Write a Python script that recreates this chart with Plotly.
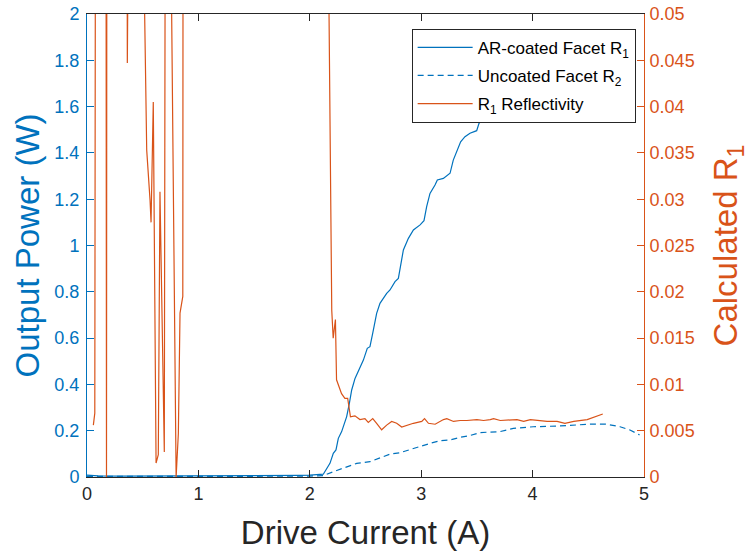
import plotly.graph_objects as go

# ---- data ----
ar_current = [0.0, 0.1, 0.3, 0.5, 0.7, 0.9, 1.1, 1.3, 1.5, 1.7, 1.9, 2.0, 2.08, 2.121, 2.181, 2.211,
              2.235, 2.256, 2.286, 2.331, 2.355, 2.376, 2.406, 2.451, 2.481, 2.516, 2.540, 2.565,
              2.600, 2.630, 2.690, 2.720, 2.735, 2.765, 2.795, 2.816, 2.840, 2.885, 2.930, 2.990,
              3.025, 3.049, 3.079, 3.124, 3.145, 3.199, 3.259, 3.288, 3.319, 3.354, 3.393, 3.438,
              3.498, 3.519, 3.60, 3.70, 3.80]
ar_power = [0.008, 0.005, 0.004, 0.004, 0.004, 0.004, 0.005, 0.005, 0.006, 0.006, 0.007, 0.008, 0.009,
            0.012, 0.059, 0.102, 0.117, 0.167, 0.196, 0.261, 0.318, 0.376, 0.426, 0.476, 0.505,
            0.556, 0.563, 0.621, 0.707, 0.750, 0.793, 0.808, 0.822, 0.844, 0.858, 0.923, 0.981,
            1.031, 1.067, 1.089, 1.107, 1.168, 1.225, 1.261, 1.283, 1.290, 1.312, 1.369, 1.405,
            1.448, 1.470, 1.485, 1.496, 1.528, 1.58, 1.65, 1.72]

un_current = [0.0, 0.5, 1.0, 1.5, 2.0, 2.121, 2.211, 2.331, 2.421, 2.540, 2.630, 2.720, 2.810, 2.899,
              2.989, 3.079, 3.169, 3.259, 3.348, 3.438, 3.528, 3.647, 3.707, 3.827, 4.006, 4.216,
              4.425, 4.545, 4.665, 4.785, 4.874, 4.934, 4.96]
un_power = [0.003, 0.002, 0.002, 0.003, 0.004, 0.006, 0.023, 0.045, 0.059, 0.066, 0.081, 0.099, 0.105,
            0.119, 0.131, 0.145, 0.157, 0.160, 0.171, 0.179, 0.192, 0.196, 0.196, 0.210, 0.217,
            0.220, 0.225, 0.229, 0.228, 0.217, 0.203, 0.186, 0.182]

r1_current = [0.057, 0.07, 0.10, 0.155, 0.175, 0.19, 0.33, 0.362, 0.37, 0.51, 0.515, 0.536, 0.566,
              0.575, 0.595, 0.62, 0.64, 0.655, 0.694, 0.735, 0.755, 0.76, 0.80, 0.82, 0.835, 0.86,
              0.875, 2.16, 2.165, 2.19, 2.197, 2.21, 2.23, 2.24, 2.285, 2.315, 2.34, 2.365, 2.405,
              2.45, 2.495, 2.525, 2.565, 2.60, 2.645, 2.69, 2.735, 2.78, 2.825, 2.93, 3.005, 3.03,
              3.065, 3.125, 3.20, 3.23, 3.29, 3.35, 3.41, 3.50, 3.56, 3.62, 3.65, 3.71, 3.86, 3.92,
              3.98, 4.13, 4.22, 4.29, 4.37, 4.49, 4.56, 4.63]
r1_reflect = [0.0056, 0.0069, 0.3, 0.3, 0.0, 0.3, 0.3, 0.0447, 0.3, 0.3, 0.052, 0.0353, 0.0299,
              0.0275, 0.0405, 0.0015, 0.0024, 0.0308, 0.0027, 0.3, 0.3, 0.05, 0.0, 0.0047, 0.0177,
              0.0195, 0.3, 0.3, 0.06, 0.0245, 0.018, 0.015, 0.017, 0.0105, 0.009, 0.0085, 0.0085,
              0.0065, 0.0066, 0.0062, 0.0063, 0.0059, 0.0063, 0.0058, 0.0051, 0.0056, 0.0060,
              0.0058, 0.0054, 0.0058, 0.0060, 0.0063, 0.0058, 0.0057, 0.0062, 0.0063, 0.0060,
              0.0061, 0.0061, 0.0062, 0.0061, 0.0062, 0.0063, 0.0061, 0.0062, 0.0060, 0.0062,
              0.0060, 0.0060, 0.0058, 0.0060, 0.0062, 0.0065, 0.0068]

x_ticks = [0, 1, 2, 3, 4, 5]
y_left_ticks = [0, 0.2, 0.4, 0.6, 0.8, 1.0, 1.2, 1.4, 1.6, 1.8, 2.0]
y_left_labels = ["0", "0.2", "0.4", "0.6", "0.8", "1", "1.2", "1.4", "1.6", "1.8", "2"]
y_right_ticks = [0, 0.005, 0.01, 0.015, 0.02, 0.025, 0.03, 0.035, 0.04, 0.045, 0.05]
y_right_labels = ["0", "0.005", "0.01", "0.015", "0.02", "0.025", "0.03", "0.035", "0.04", "0.045", "0.05"]

BLUE = "#0072BD"
ORANGE = "#D95319"
DARK = "#262626"
FONT = "Liberation Sans, Arial, sans-serif"

fig = go.Figure()
fig.add_trace(go.Scatter(x=ar_current, y=ar_power, mode="lines", name="AR-coated Facet R<sub>1</sub>",
                         legendgroup="a", line=dict(color=BLUE, width=1.2), yaxis="y"))
fig.add_trace(go.Scatter(x=un_current, y=un_power, mode="lines", name="Uncoated Facet R<sub>2</sub>",
                         legendgroup="b", line=dict(color=BLUE, width=1.2, dash="6px,4px"), yaxis="y"))
fig.add_trace(go.Scatter(x=r1_current, y=r1_reflect, mode="lines", name="R<sub>1</sub> Reflectivity",
                         legendgroup="c", line=dict(color=ORANGE, width=1.2), yaxis="y2"))

fig.update_layout(
    width=756, height=552,
    margin=dict(l=87, r=112, t=14, b=75),
    paper_bgcolor="white", plot_bgcolor="white",
    font=dict(family=FONT, size=18, color=DARK),
    showlegend=True,
    legend=dict(x=0.985, y=0.968, xanchor="right", yanchor="top",
                bgcolor="white", bordercolor=DARK, borderwidth=1,
                font=dict(family=FONT, size=17, color="black"),
                itemwidth=55, tracegroupgap=3),
    xaxis=dict(range=[0, 5], tickvals=x_ticks, ticks="inside", ticklen=7, tickcolor=DARK,
               showline=True, linecolor=DARK, linewidth=1, mirror="ticks", showgrid=False,
               zeroline=False, tickfont=dict(size=18, color=DARK), automargin=False,
               ticklabeloverflow="allow",
               title=dict(text="Drive Current (A)", font=dict(size=33, color=DARK), standoff=18)),
    yaxis=dict(range=[0, 2], tickvals=y_left_ticks, ticktext=y_left_labels, ticks="inside",
               ticklen=7, tickcolor=BLUE, showline=True, linecolor=BLUE, linewidth=1,
               showgrid=False, zeroline=False, tickfont=dict(size=18, color=BLUE),
               ticklabelstandoff=3, automargin=False, ticklabeloverflow="allow",
               title=dict(text="Output Power (W)", font=dict(size=33, color=BLUE), standoff=4)),
    yaxis2=dict(range=[0, 0.05], tickvals=y_right_ticks, ticktext=y_right_labels, overlaying="y",
                side="right", ticks="inside", ticklen=7, tickcolor=ORANGE, showline=True,
                linecolor=ORANGE, linewidth=1, showgrid=False, zeroline=False,
                tickfont=dict(size=18, color=ORANGE), ticklabelstandoff=1, automargin=False,
                ticklabeloverflow="allow",
                title=dict(text="Calculated R<sub>1</sub>", font=dict(size=33, color=ORANGE), standoff=20)),
)

fig.write_html("out.html", config={"displayModeBar": False},
               post_script="document.body.style.margin='0px';")
